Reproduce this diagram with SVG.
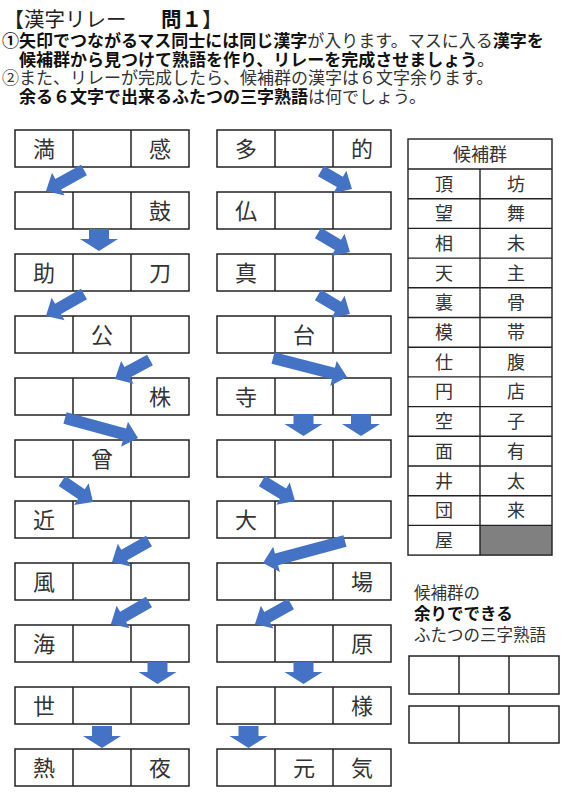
<svg xmlns="http://www.w3.org/2000/svg" width="566" height="800" viewBox="0 0 566 800">
<style>
text{font-family:"Noto Sans CJK JP","Noto Sans CJK SC",sans-serif;}
.hd{font-size:17px;fill:#333;}
.b{font-weight:bold;fill:#111;}
.cell{fill:#fff;stroke:#222;stroke-width:1.5;}
.div{stroke:#222;stroke-width:1.5;}
.k{font-size:22px;fill:#333;text-anchor:middle;}
.t{font-size:18px;fill:#333;text-anchor:middle;}
.arr{fill:#4472C4;}
.tb{fill:none;stroke:#222;stroke-width:1.4;}
</style>
<defs>
<path id="down" d="M-10,0 H10 V10 H19 L0,22 L-19,10 H-10 Z"/>
<g id="row3">
<rect class="cell" x="0" y="0" width="174" height="37"/>
<line class="div" x1="58" y1="0" x2="58" y2="37"/>
<line class="div" x1="116" y1="0" x2="116" y2="37"/>
</g>
</defs>
<rect width="566" height="800" fill="#fff"/>

<g id="title">
<text x="3.5" y="27" style="font-size:20.5px;fill:#222">【漢字リレー<tspan x="161" style="font-weight:bold;fill:#111">問１</tspan>】</text>
<text class="hd" x="2" y="47"><tspan class="b">①矢印でつながるマス同士には同じ漢字</tspan>が入ります。マスに入る<tspan class="b">漢字を</tspan></text>
<text class="hd" x="19" y="65.5"><tspan class="b">候補群から見つけて熟語を作り、リレーを完成させましょう</tspan>。</text>
<text class="hd" x="2" y="84">②また、リレーが完成したら、候補群の漢字は６文字余ります。</text>
<text class="hd" x="19" y="102.5"><tspan class="b">余る６文字で出来るふたつの三字熟語</tspan>は何でしょう。</text>
</g>

<!-- left column -->
<g id="L0"><use href="#row3" x="15" y="130"/><text class="k" x="44" y="157">満</text><text class="k" x="160" y="157">感</text></g>
<g id="L1"><use href="#row3" x="15" y="192"/><text class="k" x="160" y="219">鼓</text></g>
<g id="L2"><use href="#row3" x="15" y="254"/><text class="k" x="44" y="281">助</text><text class="k" x="160" y="281">刀</text></g>
<g id="L3"><use href="#row3" x="15" y="316"/><text class="k" x="102" y="343">公</text></g>
<g id="L4"><use href="#row3" x="15" y="378"/><text class="k" x="160" y="405">株</text></g>
<g id="L5"><use href="#row3" x="15" y="440"/><text class="k" x="102" y="467">曾</text></g>
<g id="L6"><use href="#row3" x="15" y="501"/><text class="k" x="44" y="528">近</text></g>
<g id="L7"><use href="#row3" x="15" y="563"/><text class="k" x="44" y="590">風</text></g>
<g id="L8"><use href="#row3" x="15" y="625"/><text class="k" x="44" y="652">海</text></g>
<g id="L9"><use href="#row3" x="15" y="687"/><text class="k" x="44" y="714">世</text></g>
<g id="L10"><use href="#row3" x="15" y="749"/><text class="k" x="44" y="776">熱</text><text class="k" x="160" y="776">夜</text></g>

<!-- middle column -->
<g id="M0"><use href="#row3" x="217" y="130"/><text class="k" x="246" y="157">多</text><text class="k" x="362" y="157">的</text></g>
<g id="M1"><use href="#row3" x="217" y="192"/><text class="k" x="246" y="219">仏</text></g>
<g id="M2"><use href="#row3" x="217" y="254"/><text class="k" x="246" y="281">真</text></g>
<g id="M3"><use href="#row3" x="217" y="316"/><text class="k" x="304" y="343">台</text></g>
<g id="M4"><use href="#row3" x="217" y="378"/><text class="k" x="246" y="405">寺</text></g>
<g id="M5"><use href="#row3" x="217" y="440"/></g>
<g id="M6"><use href="#row3" x="217" y="501"/><text class="k" x="246" y="528">大</text></g>
<g id="M7"><use href="#row3" x="217" y="563"/><text class="k" x="362" y="590">場</text></g>
<g id="M8"><use href="#row3" x="217" y="625"/><text class="k" x="362" y="652">原</text></g>
<g id="M9"><use href="#row3" x="217" y="687"/><text class="k" x="362" y="714">様</text></g>
<g id="M10"><use href="#row3" x="217" y="749"/><text class="k" x="304" y="776">元</text><text class="k" x="362" y="776">気</text></g>

<!-- connectors -->
<g id="connectors" class="arr">
<polygon transform="translate(84,170) rotate(151.1)" points="0,-6 29.4,-6 29.4,-13 43.4,0 29.4,13 29.4,6 0,6"/>
<use href="#down" x="99" y="229"/>
<polygon transform="translate(84,294) rotate(150.1)" points="0,-6 29.9,-6 29.9,-13 43.9,0 29.9,13 29.9,6 0,6"/>
<polygon transform="translate(150,360) rotate(151.5)" points="0,-6 25.8,-6 25.8,-13 39.8,0 25.8,13 25.8,6 0,6"/>
<polygon transform="translate(65,418) rotate(15.3)" points="0,-6 61.7,-6 61.7,-13 75.7,0 61.7,13 61.7,6 0,6"/>
<polygon transform="translate(62,481) rotate(34.1)" points="0,-6 23.4,-6 23.4,-13 37.4,0 23.4,13 23.4,6 0,6"/>
<polygon transform="translate(149,541) rotate(150.4)" points="0,-6 28.5,-6 28.5,-13 42.5,0 28.5,13 28.5,6 0,6"/>
<polygon transform="translate(149,602) rotate(150.1)" points="0,-6 29.9,-6 29.9,-13 43.9,0 29.9,13 29.9,6 0,6"/>
<use href="#down" x="157.5" y="662"/>
<use href="#down" x="102" y="726"/>

<polygon transform="translate(321,171) rotate(30.1)" points="0,-6 21.8,-6 21.8,-13 35.8,0 21.8,13 21.8,6 0,6"/>
<polygon transform="translate(318,233) rotate(30.7)" points="0,-6 23.2,-6 23.2,-13 37.2,0 23.2,13 23.2,6 0,6"/>
<polygon transform="translate(318,295) rotate(30.7)" points="0,-6 23.2,-6 23.2,-13 37.2,0 23.2,13 23.2,6 0,6"/>
<polygon transform="translate(273,358) rotate(14.4)" points="0,-6 62.4,-6 62.4,-13 76.4,0 62.4,13 62.4,6 0,6"/>
<use href="#down" x="303.5" y="414"/>
<use href="#down" x="361" y="414"/>
<polygon transform="translate(262,481) rotate(31.2)" points="0,-6 24.6,-6 24.6,-13 38.6,0 24.6,13 24.6,6 0,6"/>
<polygon transform="translate(345,541) rotate(165)" points="0,-6 70.9,-6 70.9,-13 84.9,0 70.9,13 70.9,6 0,6"/>
<polygon transform="translate(291,604) rotate(150.9)" points="0,-6 27.2,-6 27.2,-13 41.2,0 27.2,13 27.2,6 0,6"/>
<use href="#down" x="303.5" y="662"/>
<use href="#down" x="248.5" y="726"/>
</g>

<!-- candidate table -->
<g id="candidates">
<rect x="480" y="525.4" width="72" height="29.7" fill="#808080"/>
<rect class="tb" x="408" y="139" width="144" height="416.1"/>
<path class="tb" d="M408,169H552 M408,198.7H552 M408,228.4H552 M408,258.1H552 M408,287.8H552 M408,317.5H552 M408,347.2H552 M408,376.9H552 M408,406.6H552 M408,436.3H552 M408,466H552 M408,495.7H552 M408,525.4H552 M480,169V555.1"/>
<text class="t" x="480" y="161">候補群</text>
<text class="t" x="444" y="190.5">頂</text><text class="t" x="516" y="190.5">坊</text>
<text class="t" x="444" y="220.2">望</text><text class="t" x="516" y="220.2">舞</text>
<text class="t" x="444" y="249.9">相</text><text class="t" x="516" y="249.9">未</text>
<text class="t" x="444" y="279.6">天</text><text class="t" x="516" y="279.6">主</text>
<text class="t" x="444" y="309.3">裏</text><text class="t" x="516" y="309.3">骨</text>
<text class="t" x="444" y="339">模</text><text class="t" x="516" y="339">帯</text>
<text class="t" x="444" y="368.7">仕</text><text class="t" x="516" y="368.7">腹</text>
<text class="t" x="444" y="398.4">円</text><text class="t" x="516" y="398.4">店</text>
<text class="t" x="444" y="428.1">空</text><text class="t" x="516" y="428.1">子</text>
<text class="t" x="444" y="457.8">面</text><text class="t" x="516" y="457.8">有</text>
<text class="t" x="444" y="487.5">井</text><text class="t" x="516" y="487.5">太</text>
<text class="t" x="444" y="517.2">団</text><text class="t" x="516" y="517.2">来</text>
<text class="t" x="444" y="546.9">屋</text>
</g>

<!-- answer area -->
<g id="answer">
<text x="414" y="599" style="font-size:16.5px;fill:#333">候補群の</text>
<text x="414" y="620" style="font-size:16.5px;fill:#111;font-weight:bold">余りでできる</text>
<text x="414" y="641" style="font-size:16.5px;fill:#333">ふたつの三字熟語</text>
<rect class="cell" x="409" y="656" width="150" height="38"/>
<line class="div" x1="459" y1="656" x2="459" y2="694"/>
<line class="div" x1="509" y1="656" x2="509" y2="694"/>
<rect class="cell" x="409" y="706" width="150" height="37"/>
<line class="div" x1="459" y1="706" x2="459" y2="743"/>
<line class="div" x1="509" y1="706" x2="509" y2="743"/>
</g>
</svg>
